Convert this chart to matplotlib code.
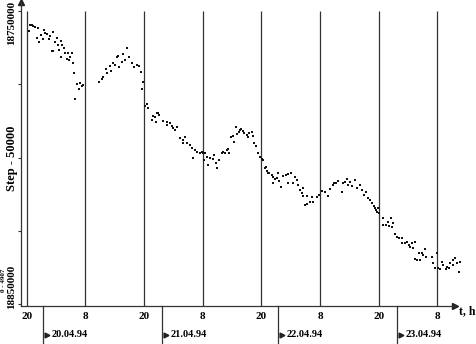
import numpy as np
import matplotlib
matplotlib.use("Agg")
import matplotlib.pyplot as plt
import matplotlib.transforms as mtransforms

plt.rcParams['font.family'] = ['Liberation Serif', 'DejaVu Serif']
plt.rcParams['font.weight'] = 'bold'

# hours since 20:00 on 19.04.94, step offset in thousands above 18750000
hours = [0.47, 0.67, 1.08, 1.29, 1.7, 2.31, 3.74, 4.15, 5.38, 2.92, 2.11, 3.33, 2.52, 4.56, 5.79,
         6.20, 7.01, 7.22, 5.17, 5.38, 6.61, 7.83, 8.45, 9.26, 7.01, 8.24, 8.65, 9.47, 9.67,
         10.29, 10.90, 10.70, 11.31, 9.88, 3.5, 4.8, 6.4, 7.6, 8.9, 11.5,
         14.79, 15.40, 15.60, 16.42, 16.22, 17.03, 17.24, 17.65, 18.06, 18.47, 18.67, 18.88,
         19.49, 19.69, 20.10, 20.51, 20.92, 21.53, 21.94, 22.56, 22.97, 23.37, 23.78, 23.58,
         24.19, 24.60, 24.81,
         25.83, 25.63, 26.24, 26.65, 26.85, 27.06, 26.44, 27.87, 28.69, 28.69, 29.30, 29.71,
         29.92, 30.33, 30.74, 31.35, 31.97, 32.37, 31.97, 32.78, 33.40, 33.80, 34.42, 34.83,
         35.44, 35.85, 36.05, 36.46, 34.01, 36.26, 37.08, 36.87,
         37.49, 38.10, 38.31, 38.72, 38.92, 39.33, 39.94, 40.15, 40.56, 40.97, 41.17, 41.38,
         41.78, 42.19, 42.40, 42.81, 43.01, 43.42, 43.63, 43.83, 44.24, 44.44, 45.06, 45.26,
         45.47, 46.08, 46.29, 46.49, 46.90, 47.31, 47.72, 48.13, 48.94, 49.15, 49.35,
         48.33, 48.74, 49.56, 50.17, 50.38, 50.79, 51.19, 51.40, 50.38, 51.60, 52.01, 52.42,
         53.03, 53.44, 54.05, 53.44, 54.46, 54.87, 55.28, 55.48, 55.89, 56.30, 56.50, 56.50,
         57.32, 56.91, 57.32, 57.94, 58.34, 58.55, 59.37, 59.78, 60.39, 61.00, 61.62, 62.03,
         62.64, 62.85, 63.26, 63.66, 64.48, 64.69, 65.10, 65.50, 65.71,
         66.12, 66.53, 67.14, 67.55, 68.16, 68.57, 68.98, 69.39, 69.80, 70.21, 70.62, 71.03, 71.44,
         71.23, 71.64, 71.85, 72.05, 72.87, 73.48, 73.89, 74.51, 74.91, 72.87, 74.10, 74.71,
         75.32, 75.73, 76.14, 76.76, 76.76, 77.37, 77.78, 78.19, 78.39, 78.80, 79.01, 79.42,
         80.23, 80.85, 81.46, 81.05, 79.42, 79.83, 80.44, 81.66, 82.89, 83.10, 83.92, 83.51,
         84.12, 84.53, 84.94, 85.15, 85.76, 85.96, 86.37, 86.58, 87.19, 87.19, 87.60, 88.01,
         88.42, 88.62]
step_k = [6.8, 4.8, 4.8, 5.1, 5.5, 5.8, 7.5, 7.8, 7.2, 8.2, 9.2, 9.6, 10.6, 9.6, 10.6,
          9.2, 10.2, 11.6, 13.7, 13.7, 13.3, 14.3, 14.3, 14.3, 15.7, 16.4, 16.7, 17.7, 21.2,
          24.9, 24.6, 26.6, 25.6, 30.0, 6.5, 8.5, 11.6, 12.6, 15.7, 25.3,
          24.2, 23.2, 22.5, 21.2, 19.8, 18.8, 20.5, 17.7, 18.4, 15.7, 15.4, 19.1,
          17.4, 14.7, 16.7, 12.6, 15.7, 17.7, 19.1, 18.4, 18.8, 20.8, 24.2, 26.6,
          32.4, 31.7, 33.1,
          35.8, 37.2, 36.2, 34.8, 34.8, 35.5, 37.9, 37.5, 37.9, 38.9, 38.2, 39.2,
          39.9, 40.6, 39.6, 43.3, 44.0, 43.0, 45.1, 45.1, 45.7, 46.8, 47.4, 48.1,
          48.5, 48.1, 48.5, 48.5, 50.2, 50.9, 52.6, 49.8,
          50.2, 50.5, 49.1, 51.9, 53.6, 50.9, 48.5, 48.1, 48.5, 47.4, 47.1, 48.5,
          43.0, 42.7, 44.7, 39.6, 42.0, 41.3, 40.6, 40.3, 41.0, 41.6, 42.3, 43.0,
          41.6, 41.3, 42.7, 45.1, 46.1, 48.5, 49.8, 50.5, 53.2, 54.6, 55.3,
          50.9, 53.6, 55.3, 56.0, 56.7, 57.3, 57.0, 55.3, 58.7, 58.0, 60.1, 56.3,
          56.0, 55.6, 55.3, 58.7, 58.7, 56.7, 57.7, 59.4, 61.1, 62.1, 60.4, 63.1,
          63.1, 66.2, 65.9, 65.2, 63.5, 65.2, 63.5, 62.8, 61.4, 61.8, 63.1, 60.8,
          59.4, 58.7, 58.7, 58.0, 61.8, 58.7, 58.4, 57.3, 59.4,
          58.4, 59.7, 57.7, 60.4, 59.4, 61.1, 62.8, 61.8, 63.8, 64.5, 65.5, 66.6, 67.9,
          67.2, 68.6, 67.2, 68.9, 70.6, 73.0, 72.0, 70.6, 72.4, 73.0, 73.4, 73.7,
          76.1, 77.1, 77.5, 77.5, 79.2, 79.2, 78.8, 79.9, 80.5, 79.2, 80.9, 78.8,
          82.6, 82.6, 81.2, 83.3, 84.6, 85.0, 85.0, 84.0, 84.0, 86.0, 82.6, 87.7,
          87.7, 88.1, 85.7, 86.7, 88.1, 87.4, 87.7, 86.0, 86.7, 85.0, 84.3, 86.0,
          89.1, 85.7]

line_hours = [0, 12, 24, 36, 48, 60, 72, 84]
line_labels = ["20", "8", "20", "8", "20", "8", "20", "8"]
date_hours = [3.3, 27.6, 51.4, 75.7]
date_labels = ["20.04.94", "21.04.94", "22.04.94", "23.04.94"]
y_ticks = [18750000, 18775000, 18800000, 18825000, 18850000]

step = 18750000 + np.array(step_k) * 1000

fig = plt.figure(figsize=(4.76, 3.44), dpi=100)
ax = fig.add_axes([21 / 476, 38 / 344, 434 / 476, 304 / 344])

ax.vlines(line_hours, 18750000, 18850700, color='#333333', lw=0.9)
ax.scatter(hours, step, s=1.5, marker='s', color='#111111', linewidths=0, clip_on=False, zorder=3)

ax.set_xlim(-1.17, 87.6)
ax.set_ylim(18850700, 18746900)

for s in ['top', 'right']:
    ax.spines[s].set_visible(False)
for s in ['left', 'bottom']:
    ax.spines[s].set_color('#333333')
    ax.spines[s].set_linewidth(0.9)
ax.plot(1, 0, '>', color='#222222', ms=4, transform=ax.transAxes, clip_on=False)
ax.plot(0, 1, '^', color='#222222', ms=4, transform=ax.transAxes, clip_on=False)

ax.set_yticks(y_ticks)
ax.set_yticklabels([])
ax.tick_params(axis='y', length=2, width=0.8, color='#333333')
ax.set_xticks([])

trans = mtransforms.blended_transform_factory(ax.transData, ax.transAxes)
for h, lab in zip(line_hours, line_labels):
    ax.text(h, -0.033, lab, transform=trans, ha='center', va='center', fontsize=8, fontweight='bold')
for h, lab in zip(date_hours, date_labels):
    ax.plot([h, h], [0, -0.14], color='#333333', lw=0.9, transform=trans, clip_on=False)
    ax.plot(h + 0.9, -0.095, '>', color='#222222', ms=3.5, transform=trans, clip_on=False)
    ax.text(h + 1.8, -0.095, lab, transform=trans, ha='left', va='center', fontsize=7.5, fontweight='bold')

fig.text(459 / 476, 1 - 311 / 344, "t, h", ha='left', va='center', fontsize=8.5, fontweight='bold')
fig.text(12 / 476, 1 - 23 / 344, "18750000", rotation=90, ha='center', va='center', fontsize=8, fontweight='bold')
fig.text(12 / 476, 1 - 287 / 344, "18850000", rotation=90, ha='center', va='center', fontsize=8, fontweight='bold')
fig.text(12 / 476, 1 - 158 / 344, "Step - 50000", rotation=90, ha='center', va='center', fontsize=9, fontweight='bold')
fig.text(4 / 476, 1 - 280 / 344, "0 - 4907", rotation=90, ha='center', va='center', fontsize=5, fontweight='bold')

fig.savefig("out.png", dpi=100)
